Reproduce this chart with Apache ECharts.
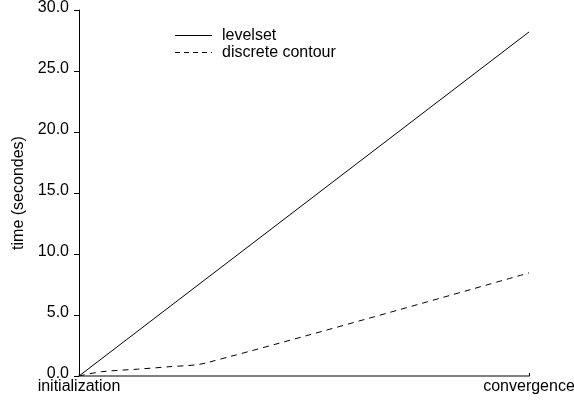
<!DOCTYPE html>
<html><head><meta charset="utf-8">
<script src="https://cdn.jsdelivr.net/npm/echarts@6/dist/echarts.min.js"></script>
<style>html,body{margin:0;padding:0;background:#fff}#c{width:574px;height:402px}</style>
</head><body><div id="c"></div>
<script>
const xTickLabels = {0: 'initialization', 1: 'convergence'};
const seriesNames = ['levelset', 'discrete contour'];
const levelset = [[0, 0], [1, 28.2]];
const discrete = [[0, 0], [0.05, 0.35], [0.13, 0.56], [0.2, 0.76], [0.28, 1.05], [1, 8.45]];

const chart = echarts.init(document.getElementById('c'), null, {renderer: 'canvas'});
const font = 'Liberation Sans, Arial, sans-serif';
const legendGraphic = [];
seriesNames.forEach((name, i) => {
  const y = 35.5 + i * 17;
  legendGraphic.push({type: 'line', silent: true,
    shape: {x1: 175, y1: y, x2: 212, y2: y},
    style: {stroke: '#000', lineWidth: 1, lineDash: i === 0 ? null : [5, 4]}});
  legendGraphic.push({type: 'text', x: 222, y: y, silent: true,
    style: {text: name, font: '16px ' + font, fill: '#000', verticalAlign: 'middle', align: 'left'}});
});
chart.setOption({
  animation: false,
  backgroundColor: '#fff',
  grid: {left: 79, right: 45, top: 10, bottom: 26, containLabel: false, outerBoundsMode: 'none'},
  graphic: legendGraphic,
  xAxis: {
    type: 'value', min: 0, max: 1, interval: 1,
    axisLine: {lineStyle: {color: '#808080', width: 2}},
    axisTick: {show: true, length: 3, inside: true, lineStyle: {color: '#000'}},
    splitLine: {show: false},
    axisLabel: {fontFamily: font, fontSize: 16, color: '#000', margin: 3,
      formatter: v => xTickLabels[v] || ''}
  },
  yAxis: {
    type: 'value', min: 0, max: 30, interval: 5,
    name: 'time (secondes)', nameLocation: 'middle', nameGap: 48, nameRotate: 90,
    nameTextStyle: {fontFamily: font, fontSize: 16, color: '#000'},
    axisLine: {show: true, lineStyle: {color: '#000', width: 1}},
    axisTick: {show: true, length: 5, lineStyle: {color: '#000'}},
    splitLine: {show: false},
    axisLabel: {fontFamily: font, fontSize: 16, color: '#000', margin: 10,
      formatter: v => '{t|' + v.toFixed(1) + '}',
      rich: {t: {fontFamily: font, fontSize: 16, color: '#000', padding: [0, 0, 5, 0]}}}
  },
  series: [
    {name: seriesNames[0], type: 'line', data: levelset, symbol: 'none',
      lineStyle: {color: '#000', width: 1, type: 'solid'}, itemStyle: {color: '#000'}},
    {name: seriesNames[1], type: 'line', data: discrete, symbol: 'none', smooth: 0.3,
      lineStyle: {color: '#000', width: 1, type: [6, 5]}, itemStyle: {color: '#000'}}
  ]
});
</script></body></html>
